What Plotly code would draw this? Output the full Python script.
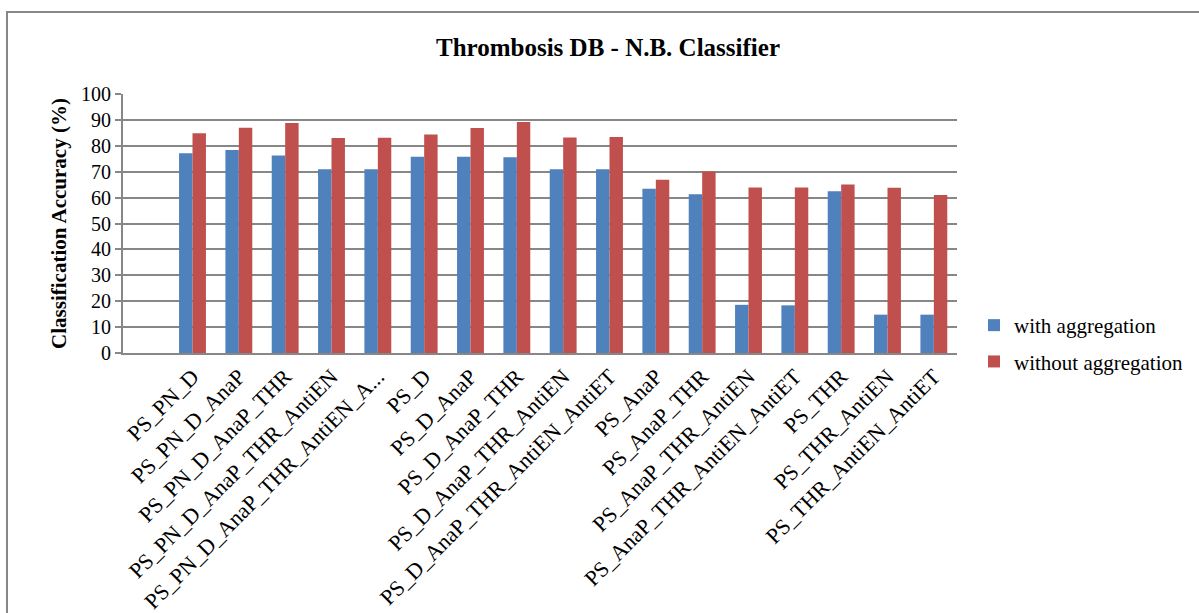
import plotly.graph_objects as go

categories = [" ", "PS_PN_D", "PS_PN_D_AnaP", "PS_PN_D_AnaP_THR", "PS_PN_D_AnaP_THR_AntiEN",
              "PS_PN_D_AnaP_THR_AntiEN_A...", "PS_D", "PS_D_AnaP", "PS_D_AnaP_THR",
              "PS_D_AnaP_THR_AntiEN", "PS_D_AnaP_THR_AntiEN_AntiET", "PS_AnaP", "PS_AnaP_THR",
              "PS_AnaP_THR_AntiEN", "PS_AnaP_THR_AntiEN_AntiET", "PS_THR", "PS_THR_AntiEN",
              "PS_THR_AntiEN_AntiET"]
with_agg = [None, 77.1, 78.4, 76.3, 70.9, 70.9, 75.8, 75.8, 75.6, 70.9, 70.9,
            63.4, 61.3, 18.6, 18.4, 62.5, 14.8, 14.8]
without_agg = [None, 84.8, 87.0, 88.8, 83.0, 83.1, 84.4, 86.9, 89.2, 83.2, 83.4,
               66.9, 70.1, 63.9, 63.9, 65.1, 63.8, 61.0]
y_ticks = [0, 10, 20, 30, 40, 50, 60, 70, 80, 90, 100]

FONT = "Liberation Serif, Times New Roman, serif"
GRID = "#878787"

fig = go.Figure()
fig.add_trace(go.Bar(x=categories, y=with_agg, name="with aggregation",
                     marker=dict(color="#4F81BD", line=dict(width=0)), legendgroup="a"))
fig.add_trace(go.Bar(x=categories, y=without_agg, name="without aggregation",
                     marker=dict(color="#C0504D", line=dict(width=0)), legendgroup="b"))

L, R, T, B = 123, 957, 94, 353
W, H = 1199, 613

fig.update_layout(
    width=W, height=H,
    margin=dict(l=L, r=W - R, t=T, b=H - B, autoexpand=False),
    paper_bgcolor="white", plot_bgcolor="white",
    barmode="group", bargap=0.42, bargroupgap=0,
    font=dict(family=FONT, color="black", size=19),
    title=dict(text="<b>Thrombosis DB - N.B. Classifier</b>", x=608 / W, xanchor="center",
               y=1 - 47 / H, yanchor="middle", font=dict(size=25, family=FONT)),
    showlegend=True,
    legend=dict(x=(974 - L) / (R - L), xanchor="left", y=(B - 305) / (B - T), yanchor="top",
                font=dict(size=21, family=FONT), tracegroupgap=6, bgcolor="rgba(0,0,0,0)"),
    xaxis=dict(type="category", categoryorder="array", categoryarray=categories,
               tickangle=-45, tickfont=dict(size=22, family=FONT),
               showline=True, linecolor=GRID, linewidth=2, ticks="", showgrid=False),
    yaxis=dict(range=[0, 100], tickvals=y_ticks, ticktext=[str(v) for v in y_ticks],
               tickfont=dict(size=20, family=FONT), showgrid=True, gridcolor=GRID, gridwidth=2,
               showline=True, linecolor=GRID, linewidth=2, ticks="outside", ticklen=6,
               tickcolor=GRID, tickwidth=2, zeroline=False,
               title=dict(text="<b>Classification Accuracy (%)</b>", font=dict(size=21, family=FONT),
                          standoff=9)),
    shapes=[dict(type="rect", xref="paper", yref="paper",
                 x0=(7 - L) / (R - L), x1=(W + 5 - L) / (R - L),
                 y0=(B - (H + 5)) / (B - T), y1=(B - 12) / (B - T),
                 line=dict(color=GRID, width=2), fillcolor="rgba(0,0,0,0)", layer="below")],
)

fig.write_html("out.html")
